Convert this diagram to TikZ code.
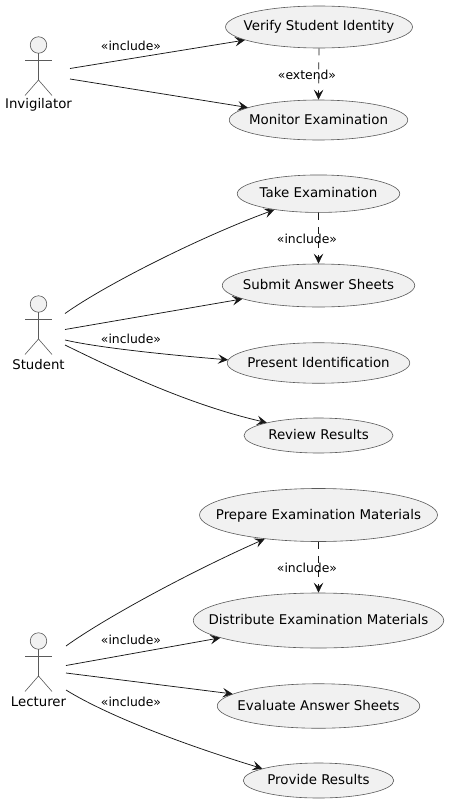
\documentclass[tikz,border=0pt]{standalone}
\usepackage{fontspec}
\setmainfont{DejaVu Sans}
\usetikzlibrary{arrows.meta,shapes.geometric}
\definecolor{ufill}{HTML}{F1F1F1}
\definecolor{uline}{HTML}{5A5A5A}
\definecolor{uarrow}{HTML}{181818}
\tikzset{
  usecase/.style n args={2}{ellipse,draw=uline,fill=ufill,line width=0.6pt,inner sep=0pt,
     minimum width=#1pt,minimum height=#2pt,font=\fontsize{13.4}{16}\selectfont,text=black},
  actorhead/.style={circle,draw=uline,fill=ufill,line width=0.6pt,inner sep=0pt,minimum size=16.5pt},
  actorline/.style={draw=uline,line width=0.6pt},
  actorname/.style={font=\fontsize{13.3}{16}\selectfont,text=black,inner sep=0pt},
  rel/.style={draw=uarrow,line width=0.75pt,-{Stealth[length=10pt,width=9.5pt,inset=4pt]}},
  reldash/.style={rel,dash pattern=on 7pt off 7pt},
  rellabel/.style={font=\fontsize{12.4}{14}\selectfont,text=black,inner sep=0pt}
}
\newcommand{\uctext}[1]{\raisebox{-4pt}[0pt][0pt]{\makebox[0pt][c]{#1}}}
\newcommand{\umlactor}[3]{%
  \node[actorhead] (#1head) at (38.5,#2) {};
  \coordinate (#1neck) at (38.5,#2+8.2);
  \coordinate (#1hip) at (38.5,#2+35);
  \coordinate (#1armL) at (25,#2+15.5);
  \coordinate (#1armR) at (52,#2+15.5);
  \coordinate (#1legL) at (25,#2+50.5);
  \coordinate (#1legR) at (52,#2+50.5);
  \draw[actorline] (#1neck) -- (#1hip);
  \draw[actorline] (#1armL) -- (#1armR);
  \draw[actorline] (#1legL) -- (#1hip) -- (#1legR);
  \node[actorname] (#1name) at (38.5,#2+60.3) {#3};
}
\begin{document}
\begin{tikzpicture}[x=1pt,y=-1pt]
\useasboundingbox (0,0) rectangle (448,803);
% use cases
\node[usecase={187}{42}] (verify) at (319,27) {\uctext{Verify Student Identity}};
\node[usecase={178.5}{40}] (monitor) at (318.5,120) {\uctext{Monitor Examination}};
\node[usecase={162.5}{37.5}] (take) at (318.5,193.7) {\uctext{Take Examination}};
\node[usecase={192.5}{43}] (submit) at (318.5,285.5) {\uctext{Submit Answer Sheets}};
\node[usecase={182.5}{40.5}] (present) at (318.5,363) {\uctext{Present Identification}};
\node[usecase={149}{35}] (review) at (318.5,435.5) {\uctext{Review Results}};
\node[usecase={238}{53}] (prepare) at (318.5,515) {\uctext{Prepare Examination Materials}};
\node[usecase={250.5}{55}] (distribute) at (318.5,620.5) {\uctext{Distribute Examination Materials}};
\node[usecase={202.5}{44.5}] (evaluate) at (318.5,706) {\uctext{Evaluate Answer Sheets}};
\node[usecase={150.5}{35}] (provide) at (318.5,780.5) {\uctext{Provide Results}};
% actors
\umlactor{inv}{45}{Invigilator}
\umlactor{stu}{304}{Student}
\umlactor{lec}{641}{Lecturer}
% free ends by the actors
\coordinate (i1) at (70,68.5);
\coordinate (i2) at (70,79);
\coordinate (s1) at (65,313.5);
\coordinate (s2) at (65,329.5);
\coordinate (s3) at (65,340);
\coordinate (s4) at (65,345);
\coordinate (l1) at (66,646);
\coordinate (l2) at (66,665.5);
\coordinate (l3) at (66,673);
\coordinate (l4) at (66,690);
% connectors
\draw[rel] (i1) -- (verify.190);
\draw[rel] (i2) -- (monitor.170.5);
\draw[reldash] (verify.south) -- (monitor.north);
\draw[rel] (s1) .. controls (105,285) and (200,237) .. (take.200);
\draw[rel] (s2) -- (submit.190);
\draw[rel] (s3) .. controls (100,348) and (170,355) .. (present.178);
\draw[rel] (s4) .. controls (120,372) and (190,405) .. (review.166);
\draw[reldash] (take.south) -- (submit.north);
\draw[rel] (l1) .. controls (105,618) and (190,572) .. (prepare.204);
\draw[rel] (l2) -- (distribute.190.7);
\draw[rel] (l3) -- (evaluate.172.8);
\draw[rel] (l4) .. controls (108,716) and (185,745) .. (provide.168);
\draw[reldash] (prepare.south) -- (distribute.north);
% labels
\node[rellabel] (t1) at (131,45.5) {«include»};
\node[rellabel] (t2) at (307,74.5) {«extend»};
\node[rellabel] (t3) at (307,238.5) {«include»};
\node[rellabel] (t4) at (131,339) {«include»};
\node[rellabel] (t5) at (307,567.5) {«include»};
\node[rellabel] (t6) at (131,639.5) {«include»};
\node[rellabel] (t7) at (131,701.5) {«include»};
\end{tikzpicture}
\end{document}
